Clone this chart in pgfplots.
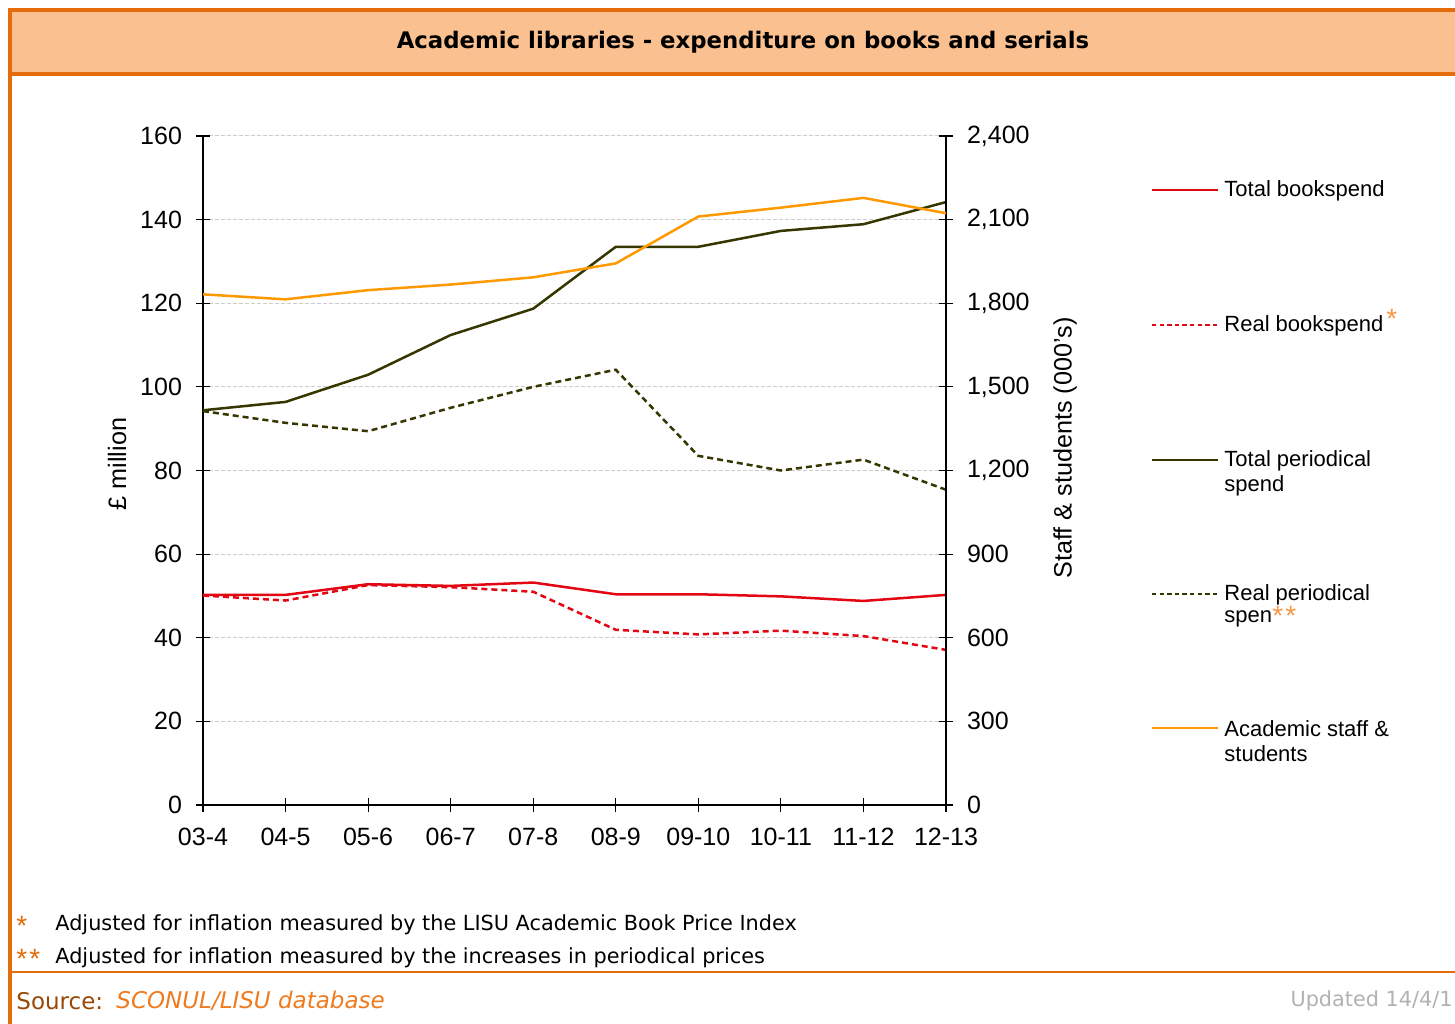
\documentclass[border=0pt]{standalone}
\usepackage{pgfplots}
\pgfplotsset{compat=1.18}
\usepackage{fontspec}
\setmainfont{Liberation Sans}
\newfontfamily\dv{DejaVu Sans}
\definecolor{frame}{HTML}{E46C0A}
\definecolor{band}{HTML}{FAC090}
\definecolor{cred}{HTML}{E30613}
\definecolor{colive}{HTML}{363600}
\definecolor{corange}{HTML}{FF9900}
\definecolor{cast}{HTML}{F79646}
\definecolor{srcbrown}{HTML}{984807}
\definecolor{srcorange}{HTML}{F07A1E}

\pgfplotstableread{
x tb rb tp rp
0 50.25 50.1 94.4 94.2
1 50.25 48.9 96.4 91.4
2 52.8 52.6 102.9 89.4
3 52.4 52.1 112.4 95.0
4 53.2 51.0 118.7 100.0
5 50.4 41.9 133.5 104.1
6 50.4 40.8 133.5 83.5
7 49.9 41.7 137.3 80.0
8 48.8 40.4 138.9 82.6
9 50.25 37.1 144.2 75.4
}\money
\pgfplotstableread{
x st
0 1832
1 1814
2 1847
3 1867
4 1893
5 1943
6 2111
7 2143
8 2178
9 2123
}\staff

\begin{document}
\begin{tikzpicture}[x=0.5pt,y=0.5pt]
\useasboundingbox (0,0) rectangle (1455,1023);
\clip (0,0) rectangle (1455,1023);
\fill[white] (0,0) rectangle (1455,1023);
\fill[band] (10,1013) rectangle (1480,949);
\draw[frame,line width=1.6pt] (10,-20) -- (10,1013) -- (1480,1013);
\draw[frame,line width=1.6pt] (10,949) -- (1480,949);
\draw[frame,line width=1.4pt] (10,51) -- (1480,51);
\node[font=\dv\bfseries\fontsize{11.4}{13}\selectfont] at (743,981) {Academic libraries - expenditure on books and serials};

\begin{axis}[
  at={(101.5pt,109pt)}, anchor=south west,
  scale only axis, width=371.5pt, height=334.5pt,
  xmin=0, xmax=9, ymin=0, ymax=160,
  axis x line*=bottom, axis y line*=left,
  axis line style={black, line width=0.6pt, -},
  xtick={0,...,9},
  xticklabels={03-4,04-5,05-6,06-7,07-8,08-9,09-10,10-11,11-12,12-13},
  ytick={0,20,...,160},
  ymajorgrids,
  major grid style={gray!40, dash pattern=on 2pt off 1pt, line width=0.5pt},
  ytick style={black, line width=0.6pt},
  xtick style={black, line width=0.6pt},
  major tick length=7pt,
  tick align=center,
  tick label style={font=\fontsize{12.5}{14}\selectfont},
  /pgf/number format/assume math mode=true,
  yticklabel style={xshift=-3.5pt},
  xticklabel style={yshift=-4.5pt},
  clip=false,
]
\addplot[cred, line width=1.25pt] table[x=x,y=tb] {\money};
\addplot[cred, line width=1.25pt, dash pattern=on 3pt off 2pt] table[x=x,y=rb] {\money};
\addplot[colive, line width=1.25pt] table[x=x,y=tp] {\money};
\addplot[colive, line width=1.25pt, dash pattern=on 3pt off 2pt] table[x=x,y=rp] {\money};
\end{axis}

\begin{axis}[
  at={(101.5pt,109pt)}, anchor=south west,
  scale only axis, width=371.5pt, height=334.5pt,
  xmin=0, xmax=9, ymin=0, ymax=2400,
  axis x line=none, axis y line*=right,
  axis line style={black, line width=0.6pt, -},
  ytick={0,300,...,2400},
  ytick style={black, line width=0.6pt},
  major tick length=7pt,
  tick align=center,
  tick label style={font=\fontsize{12.5}{14}\selectfont},
  /pgf/number format/assume math mode=true,
  /pgf/number format/1000 sep={,},
  yticklabel style={xshift=3.5pt},
  clip=false,
]
\addplot[corange, line width=1.25pt] table[x=x,y=st] {\staff};
\end{axis}

\node[rotate=90, font=\fontsize{12.6}{14}\selectfont] at (117,559) {£ million};
\node[rotate=90, font=\fontsize{12.6}{14}\selectfont] at (1065,575) {Staff \& students (000's)};

% legend
\begin{scope}[font=\fontsize{11}{12.5}\selectfont]
\draw[cred, line width=1.25pt] (1152,833) -- (1218,833);
\node[anchor=west, inner sep=0pt] at (1224,832) {Total bookspend};
\draw[cred, line width=1.25pt, dash pattern=on 2.2pt off 1.6pt] (1152,698) -- (1218,698);
\node[anchor=west, inner sep=0pt] at (1224,697) {Real bookspend};
\node[anchor=west, inner sep=0pt, text=cast, font=\fontsize{14}{14}\selectfont] at (1386,704) {*};
\draw[colive, line width=1.25pt] (1152,563) -- (1218,563);
\node[anchor=west, inner sep=0pt] at (1224,562) {Total periodical};
\node[anchor=west, inner sep=0pt] at (1224,537) {spend};
\draw[colive, line width=1.25pt, dash pattern=on 2.2pt off 1.6pt] (1152,429) -- (1218,429);
\node[anchor=west, inner sep=0pt] at (1224,428) {Real periodical};
\node[anchor=west, inner sep=0pt] at (1224,404) {spen};
\node[anchor=west, inner sep=0pt, text=cast, font=\fontsize{14}{14}\selectfont] at (1272,407) {*\hspace{1pt}*};
\draw[corange, line width=1.25pt] (1152,295) -- (1218,295);
\node[anchor=west, inner sep=0pt] at (1224,294) {Academic staff \&};
\node[anchor=west, inner sep=0pt] at (1224,269) {students};
\end{scope}

% footnotes
\begin{scope}[font=\dv\fontsize{10.4}{12}\selectfont]
\node[anchor=west, inner sep=0pt, text=frame, font=\fontsize{14}{14}\selectfont] at (16,97) {*};
\node[anchor=west, inner sep=0pt] at (55,98) {Adjusted for inflation measured by the LISU Academic Book Price Index};
\node[anchor=west, inner sep=0pt, text=frame, font=\fontsize{14}{14}\selectfont] at (16,64) {*\hspace{1pt}*};
\node[anchor=west, inner sep=0pt] at (55,65) {Adjusted for inflation measured by the increases in periodical prices};
\node[anchor=west, inner sep=0pt, text=srcbrown, font=\dv\fontsize{11.5}{13}\selectfont] at (16,22) {Source:};
\node[anchor=west, inner sep=0pt, text=srcorange, font=\dv\fontsize{11.5}{13}\selectfont] at (116,22) {\itshape SCONUL/LISU database};
\node[anchor=east, inner sep=0pt, text=gray!60] at (1453,22) {Updated 14/4/1};
\end{scope}
\end{tikzpicture}
\end{document}
